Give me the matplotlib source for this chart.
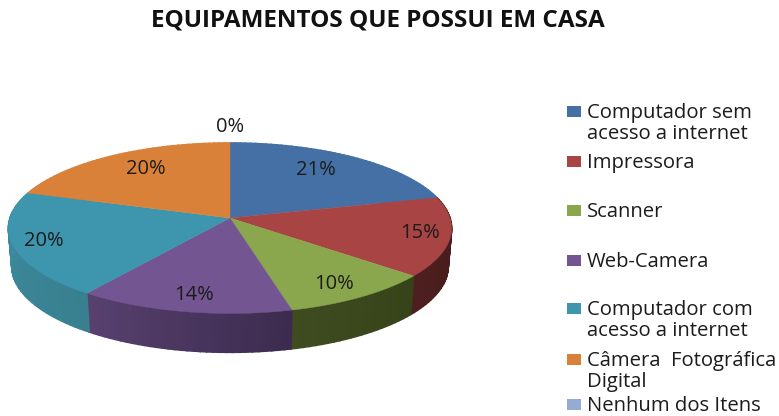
import numpy as np
import matplotlib
matplotlib.use("Agg")
import matplotlib.pyplot as plt
from matplotlib.patches import Rectangle
from matplotlib.colors import to_rgb

title = "EQUIPAMENTOS QUE POSSUI EM CASA"
categories = ["Computador sem\nacesso a internet", "Impressora", "Scanner", "Web-Camera",
              "Computador com\nacesso a internet", "Câmera  Fotográfica\nDigital", "Nenhum dos Itens"]
values = [21, 15, 10, 14, 20, 20, 0]
colors = ["#4470a6", "#a84544", "#8aa74d", "#735591", "#3e95ae", "#da8139", "#95abd4"]
side_left = ["#4470a6", "#4e1f1f", "#3f4c20", "#584170", "#3f8ca4", "#da8139", "#95abd4"]
side_right = ["#4470a6", "#431a1a", "#364219", "#3c2b4e", "#38808f", "#da8139", "#95abd4"]
label_pos = [(316, 170), (420, 233), (334, 284), (194, 295), (44, 241), (146, 169), (230, 127)]
legend_y = [111, 161, 210, 260, 308, 359, 404]

FONT = ["Open Sans", "DejaVu Sans"]
CX, CY, RX, RY, P = 230, 218, 220, 84, 0.12
DEPTH = 38


def project(theta, r=1.0, z=0.0):
    """theta: clockwise from 12 o'clock; perspective-flattened disc in pixel space."""
    x, y = r * np.sin(theta), r * np.cos(theta)
    s = 1 / (1 + P * y)
    return CX + RX * x * s, CY - RY * y * s + z * s ** 0.5


fig = plt.figure(figsize=(7.79, 4.16), dpi=100)
ax = fig.add_axes([0, 0, 1, 1])
ax.set_xlim(0, 779)
ax.set_ylim(416, 0)
ax.axis("off")

fractions = np.array(values, float) / sum(values)
edges = np.concatenate([[0], np.cumsum(fractions)]) * 2 * np.pi

# side wall: thin quads shaded along the rim
for i in range(len(values)):
    if values[i] == 0:
        continue
    a0, a1 = edges[i], edges[i + 1]
    n = max(int((a1 - a0) / np.radians(1.5)), 2)
    ts = np.linspace(a0, a1, n + 1)
    cl, cr = np.array(to_rgb(side_left[i])), np.array(to_rgb(side_right[i]))
    for j in range(n):
        t = np.array([ts[j], ts[j + 1]])
        xt, yt = project(t)
        xb, yb = project(t, 0.985, DEPTH)
        c = cr + (cl - cr) * (j + 0.5) / n
        ax.fill([xt[0], xt[1], xb[1], xb[0]], [yt[0], yt[1], yb[1], yb[0]],
                facecolor=c, edgecolor=c, lw=1.2, zorder=1)

# top surface
for i in range(len(values)):
    if values[i] == 0:
        continue
    t = np.linspace(edges[i], edges[i + 1], 120)
    xs, ys = project(t)
    ax.fill(np.r_[CX, xs], np.r_[CY, ys], color=colors[i], lw=0.3, zorder=2)

for v, (lx, ly) in zip(values, label_pos):
    ax.text(lx, ly, f"{v}%", ha="center", va="center", fontsize=14.5, color="#1c1c1c",
            family=FONT, zorder=3)

ax.text(378, 20, title, ha="center", va="center", fontsize=17.5, fontweight="bold",
        color="#111111", family=FONT)

for label, color, y in zip(categories, colors, legend_y):
    ax.add_patch(Rectangle((567, y - 5.5), 14, 11, facecolor=color, edgecolor="none"))
    ax.text(587, y - 8, label, ha="left", va="top", fontsize=14.6, color="#1c1c1c",
            family=FONT, linespacing=1.05)

fig.savefig("out.png", dpi=100)
